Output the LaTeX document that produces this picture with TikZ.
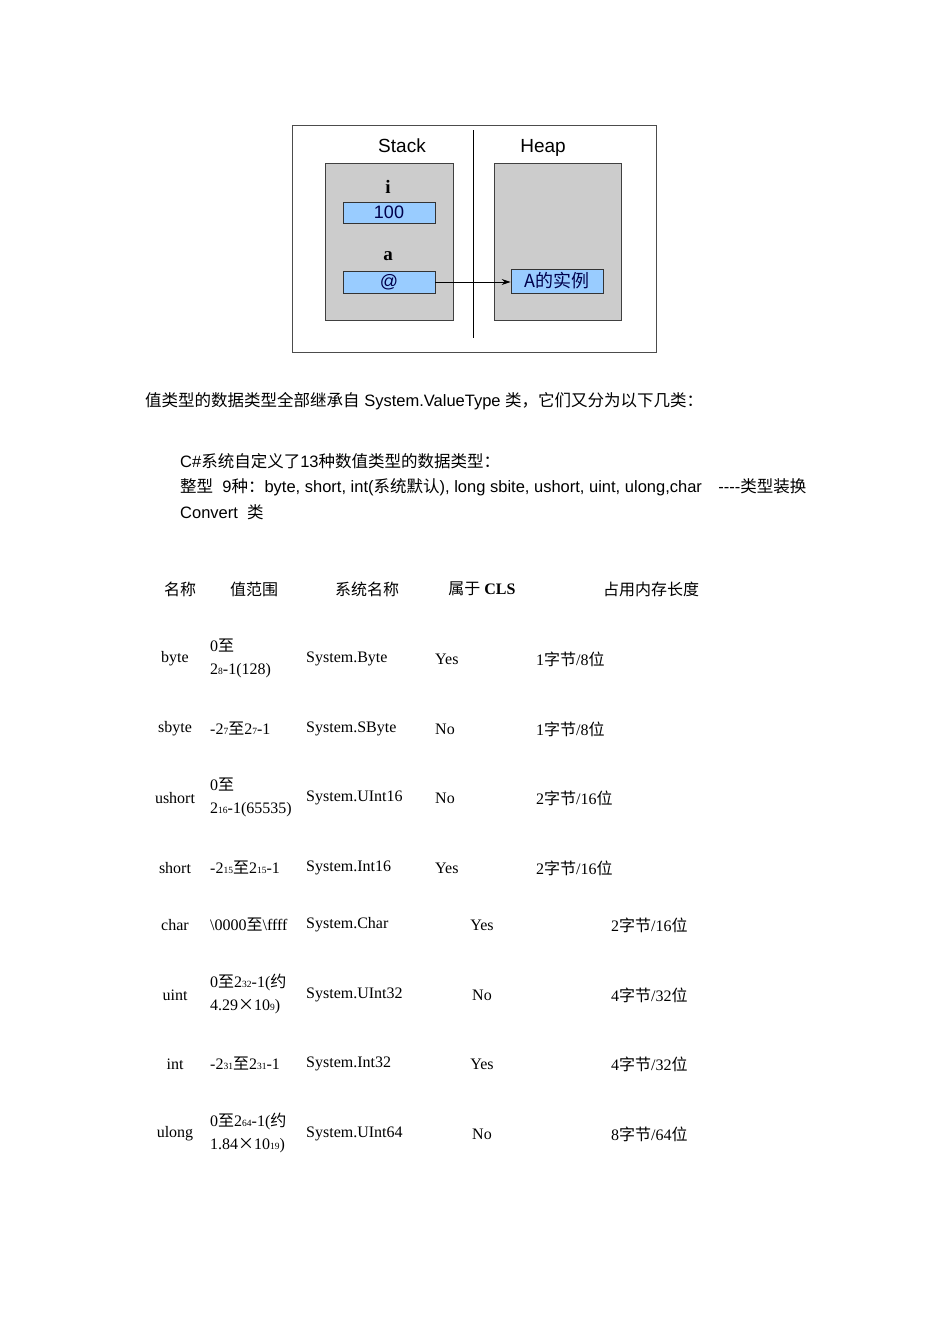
\documentclass[tikz,border=0pt]{standalone}
\usepackage{fontspec}
\setmainfont{Liberation Serif}
\newfontfamily\sansf{Liberation Sans}
\newfontfamily\cjk{Noto Sans CJK SC}
\usetikzlibrary{arrows.meta}
\definecolor{cellblue}{HTML}{99CCFF}
\newcommand{\zh}[1]{{\cjk #1}}
\newcommand{\ex}[1]{{\fontsize{9.5}{9.5}\selectfont #1}}
\begin{document}
\begin{tikzpicture}[x=1pt,y=-1pt,
  tx/.style={inner sep=0pt,font=\fontsize{16}{16}\selectfont},
  ptx/.style={inner sep=0pt,anchor=west,font=\sansf\fontsize{16.5}{16.5}\selectfont},
  mem/.style={draw=black!75,fill=black!20,line width=0.8pt},
  cell/.style={draw=black!80,fill=cellblue,line width=0.8pt,font=\sansf\fontsize{18}{18}\selectfont,text=blue!30!black,inner sep=0pt}]
\useasboundingbox (0,0) rectangle (950,1344);
% diagram
\draw[black!70,line width=0.8pt] (292,125) rectangle (656,352);
\draw[line width=0.8pt] (473,130) -- (473,338);
\node[font=\sansf\fontsize{19}{19}\selectfont,anchor=base] (stk) at (402,152) {Stack};
\node[font=\sansf\fontsize{19}{19}\selectfont,anchor=base] (hp) at (543,152) {Heap};
\draw[mem] (325,163) rectangle (453,320);
\draw[mem] (494,163) rectangle (621,320);
\node[font=\bfseries\fontsize{19}{19}\selectfont] (li) at (388,187) {i};
\node[cell,minimum width=92pt,minimum height=21pt] (v) at (389,212.5) {100};
\node[font=\bfseries\fontsize{19}{19}\selectfont] (la) at (388,256) {a};
\node[cell,minimum width=92pt,minimum height=22pt] (p) at (389,282) {@};
\node[cell,minimum width=92pt,minimum height=24pt,font=\cjk\fontsize{18}{18}\selectfont] (o) at (557,281) {A的实例};
\draw[-{Stealth[length=9pt,width=6pt]},line width=1pt] (p.east) -- (p.east -| o.west);
% paragraph text
\node[ptx] (t1) at (145,401) {\zh{值类型的数据类型全部继承自} System.ValueType \zh{类，它们又分为以下几类：}};
\node[ptx] (t2) at (180,461) {C\#\zh{系统自定义了}13\zh{种数值类型的数据类型：}};
\node[ptx] (t3) at (180,487) {\zh{整型}\ \ 9\zh{种：}byte, short, int(\zh{系统默认}), long sbite, ushort, uint, ulong,char\quad ----\zh{类型装换}};
\node[ptx] (t4) at (180,512) {Convert\ \ \zh{类}};
% table header
\node[tx] (h1) at (180,589) {\zh{名称}};
\node[tx] (h2) at (254,589) {\zh{值范围}};
\node[tx] (h3) at (367,589) {\zh{系统名称}};
\node[tx] (h4) at (482,589) {\zh{属于} \textbf{CLS}};
\node[tx] (h5) at (651,589) {\zh{占用内存长度}};
% rows
\foreach \n/\y in {byte/659,sbyte/729,ushort/798,short/868,char/925,uint/995,int/1064,ulong/1134}
  \node[tx] (n\n) at (175,\y) {\n};
\begin{scope}[every node/.style={tx,anchor=west}]
\node (r1a) at (210,646) {0\zh{至}};
\node (r1b) at (210,671) {2\ex{8}-1(128)};
\node (r2) at (210,729) {-2\ex{7}\zh{至}2\ex{7}-1};
\node (r3a) at (210,785) {0\zh{至}};
\node (r3b) at (210,810) {2\ex{16}-1(65535)};
\node (r4) at (210,868) {-2\ex{15}\zh{至}2\ex{15}-1};
\node (r5) at (210,925) {\textbackslash 0000\zh{至}\textbackslash ffff};
\node (r6a) at (210,982) {0\zh{至}2\ex{32}-1(\zh{约}};
\node (r6b) at (210,1007) {4.29\zh{×}10\ex{9})};
\node (r7) at (210,1064) {-2\ex{31}\zh{至}2\ex{31}-1};
\node (r8a) at (210,1121) {0\zh{至}2\ex{64}-1(\zh{约}};
\node (r8b) at (210,1146) {1.84\zh{×}10\ex{19})};
\node (s1) at (306,659) {System.Byte};
\node (s2) at (306,729) {System.SByte};
\node (s3) at (306,798) {System.UInt16};
\node (s4) at (306,868) {System.Int16};
\node (s5) at (306,925) {System.Char};
\node (s6) at (306,995) {System.UInt32};
\node (s7) at (306,1064) {System.Int32};
\node (s8) at (306,1134) {System.UInt64};
\node (c1) at (435,659) {Yes};
\node (c2) at (435,729) {No};
\node (c3) at (435,798) {No};
\node (c4) at (435,868) {Yes};
\node (m1) at (536,659) {1\zh{字节}/8\zh{位}};
\node (m2) at (536,729) {1\zh{字节}/8\zh{位}};
\node (m3) at (536,798) {2\zh{字节}/16\zh{位}};
\node (m4) at (536,868) {2\zh{字节}/16\zh{位}};
\node (m5) at (611,925) {2\zh{字节}/16\zh{位}};
\node (m6) at (611,995) {4\zh{字节}/32\zh{位}};
\node (m7) at (611,1064) {4\zh{字节}/32\zh{位}};
\node (m8) at (611,1134) {8\zh{字节}/64\zh{位}};
\end{scope}
\node[tx] (c5) at (482,925) {Yes};
\node[tx] (c6) at (482,995) {No};
\node[tx] (c7) at (482,1064) {Yes};
\node[tx] (c8) at (482,1134) {No};
\end{tikzpicture}
\end{document}
